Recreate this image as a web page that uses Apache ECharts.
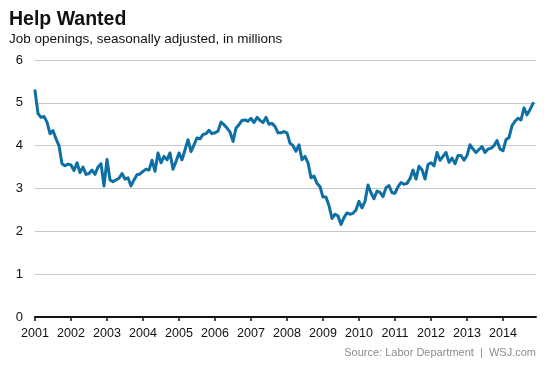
<!DOCTYPE html>
<html>
<head>
<meta charset="utf-8">
<script src="https://cdn.jsdelivr.net/npm/echarts@6/dist/echarts.min.js"></script>
<style>
html,body{margin:0;padding:0;background:#fff;}
#chart{width:553px;height:369px;}
</style>
</head>
<body>
<div id="chart"></div>
<script>
// Monthly job openings (millions), Jan 2001 onward
const startYear = 2001;
const openings = [
  5.28, 4.75, 4.66, 4.68, 4.55, 4.28, 4.35, 4.16, 4.00, 3.58, 3.53, 3.57,
  3.55, 3.42, 3.60, 3.37, 3.50, 3.33, 3.35, 3.43, 3.33, 3.50, 3.58, 3.06,
  3.68, 3.20, 3.16, 3.20, 3.24, 3.35, 3.22, 3.25, 3.06, 3.20, 3.32, 3.34,
  3.40, 3.45, 3.43, 3.66, 3.40, 3.83, 3.60, 3.75, 3.67, 3.83, 3.45, 3.63,
  3.83, 3.67, 3.90, 4.14, 3.86, 4.02, 4.18, 4.16, 4.26, 4.28, 4.36, 4.28,
  4.30, 4.34, 4.55, 4.49, 4.41, 4.32, 4.10, 4.41, 4.49, 4.59, 4.60, 4.57,
  4.64, 4.54, 4.66, 4.59, 4.54, 4.66, 4.50, 4.52, 4.45, 4.30, 4.30, 4.33,
  4.30, 4.06, 4.00, 3.87, 4.02, 3.67, 3.75, 3.60, 3.25, 3.29, 3.12, 3.04,
  2.80, 2.80, 2.60, 2.30, 2.40, 2.36, 2.16, 2.32, 2.43, 2.40, 2.42, 2.50,
  2.70, 2.55, 2.70, 3.08, 2.90, 2.76, 2.94, 2.91, 2.81, 3.02, 3.07, 2.90,
  2.89, 3.04, 3.14, 3.10, 3.12, 3.23, 3.43, 3.22, 3.52, 3.44, 3.22, 3.56,
  3.60, 3.53, 3.84, 3.66, 3.75, 3.84, 3.61, 3.71, 3.58, 3.77, 3.77, 3.66,
  3.77, 4.02, 3.92, 3.84, 3.91, 3.98, 3.84, 3.92, 3.94, 4.00, 4.12, 3.92,
  3.88, 4.14, 4.19, 4.47, 4.57, 4.64, 4.60, 4.88, 4.72, 4.84, 4.99
];
const yearTicks = [2001, 2002, 2003, 2004, 2005, 2006, 2007, 2008, 2009, 2010, 2011, 2012, 2013, 2014];
const yTicks = [0, 1, 2, 3, 4, 5, 6];

const seriesData = openings.map((v, i) => [startYear + i / 12, v]);
const font = '"Liberation Sans", Arial, Helvetica, sans-serif';

const chart = echarts.init(document.getElementById('chart'), null, {renderer: 'canvas'});
chart.setOption({
  animation: false,
  backgroundColor: '#ffffff',
  grid: {left: 35, right: 17, top: 60, bottom: 52, containLabel: false},
  graphic: [
    {type: 'text', left: 9, top: 10, style: {text: 'Help Wanted', font: 'bold 19.5px ' + font, fill: '#111111'}},
    {type: 'text', left: 9, top: 32, style: {text: 'Job openings, seasonally adjusted, in millions', font: '13.5px ' + font, fill: '#111111'}},
    {type: 'text', right: 17, top: 347, style: {text: 'Source: Labor Department  |  WSJ.com', font: '11px ' + font, fill: '#8c8c8c'}}
  ],
  xAxis: {
    type: 'value',
    min: 2001,
    max: 2014 + 11 / 12,
    axisLine: {show: true, onZero: false, lineStyle: {color: '#111111', width: 2}},
    axisTick: {show: true, length: 4, lineStyle: {color: '#111111', width: 1.5}, customValues: yearTicks},
    axisLabel: {
      color: '#111111', fontSize: 12.5, fontFamily: font, margin: 10,
      customValues: yearTicks,
      formatter: v => String(v)
    },
    splitLine: {show: false}
  },
  yAxis: {
    type: 'value',
    min: yTicks[0],
    max: yTicks[yTicks.length - 1],
    interval: 1,
    axisLine: {show: false},
    axisTick: {show: false},
    axisLabel: {color: '#111111', fontSize: 13, fontFamily: font, margin: 12},
    splitLine: {show: true, lineStyle: {color: '#c8c8c8', width: 1}}
  },
  series: [{
    type: 'line',
    data: seriesData,
    showSymbol: false,
    symbol: 'none',
    smooth: false,
    lineStyle: {color: '#0d6fa3', width: 3, join: 'round', cap: 'round'},
    z: 3
  }]
});
</script>
</body>
</html>
